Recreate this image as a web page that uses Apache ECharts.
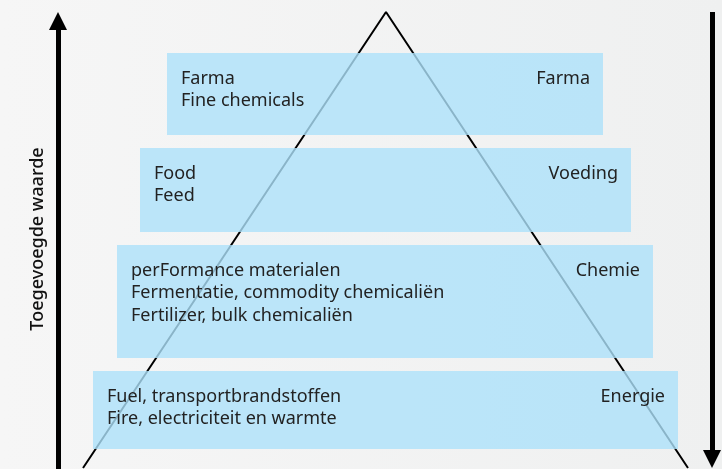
<!DOCTYPE html>
<html>
<head>
<meta charset="utf-8">
<script src="https://cdn.jsdelivr.net/npm/echarts@6/dist/echarts.min.js"></script>
<style>
  html, body { margin: 0; padding: 0; }
  #chart { width: 722px; height: 469px; background: linear-gradient(to right, #f6f6f6, #eff0f0); }
</style>
</head>
<body>
<div id="chart"></div>
<script>
// tiers of the pyramid, top to bottom
const leftTexts = [
  ['Farma', 'Fine chemicals'],
  ['Food', 'Feed'],
  ['perFormance materialen', 'Fermentatie, commodity chemicaliën', 'Fertilizer, bulk chemicaliën'],
  ['Fuel, transportbrandstoffen', 'Fire, electriciteit en warmte']
];
const rightTexts = ['Farma', 'Voeding', 'Chemie', 'Energie'];
// box extents in diagram units (x from left, y from top)
const tierX0 = [167, 140, 117, 93];
const tierX1 = [603, 631, 653, 678];
const tierY0 = [53, 148, 245, 371];
const tierY1 = [135, 232, 358, 449];
// triangle corners
const triangle = [[83, 468], [386, 12], [688, 468]];
const axisLabel = 'Toegevoegde waarde';

const chart = echarts.init(document.getElementById('chart'));

const tierData = rightTexts.map((r, i) => [tierX0[i], tierY0[i], tierX1[i], tierY1[i], i]);

chart.setOption({
  animation: false,
  grid: { left: 0, right: 0, top: 0, bottom: 0 },
  xAxis: { type: 'value', min: 0, max: 722, show: false },
  yAxis: { type: 'value', min: 0, max: 469, inverse: true, show: false },
  graphic: [{
    type: 'text',
    x: 38,
    y: 239,
    rotation: Math.PI / 2,
    style: {
      text: axisLabel,
      fill: '#111',
      fontFamily: 'Noto Sans',
      fontSize: 18,
      fontWeight: 500,
      align: 'center',
      verticalAlign: 'middle'
    }
  }],
  series: [
    {
      type: 'line',
      data: triangle,
      clip: false,
      symbol: 'none',
      lineStyle: { color: '#000', width: 2 },
      z: 1,
      markLine: {
        silent: true,
        symbol: ['none', 'triangle'],
        symbolSize: [18, 18],
        label: { show: false },
        lineStyle: { color: '#000', width: 5, type: 'solid' },
        data: [
          [{ coord: [58, 469] }, { coord: [58, 21] }],
          [{ coord: [712, 12] }, { coord: [712, 459] }]
        ]
      }
    },
    {
      type: 'custom',
      z: 2,
      data: tierData,
      renderItem: function (params, api) {
        const p0 = api.coord([api.value(0), api.value(1)]);
        const p1 = api.coord([api.value(2), api.value(3)]);
        const idx = api.value(4);
        const children = [{
          type: 'rect',
          shape: { x: p0[0], y: p0[1], width: p1[0] - p0[0], height: p1[1] - p0[1] },
          style: { fill: 'rgba(172, 225, 250, 0.8)' }
        }];
        leftTexts[idx].forEach(function (t, k) {
          children.push({
            type: 'text',
            x: p0[0] + 14,
            y: p0[1] + 25.5 + k * 22.5,
            style: {
              text: t,
              fill: '#222',
              fontFamily: 'Noto Sans',
              fontSize: 18,
              verticalAlign: 'middle'
            }
          });
        });
        children.push({
          type: 'text',
          x: p1[0] - 13,
          y: p0[1] + 25.5,
          style: {
            text: rightTexts[idx],
            fill: '#222',
            fontFamily: 'Noto Sans',
            fontSize: 18,
            align: 'right',
            verticalAlign: 'middle'
          }
        });
        return { type: 'group', children: children };
      }
    }
  ]
});
</script>
</body>
</html>
